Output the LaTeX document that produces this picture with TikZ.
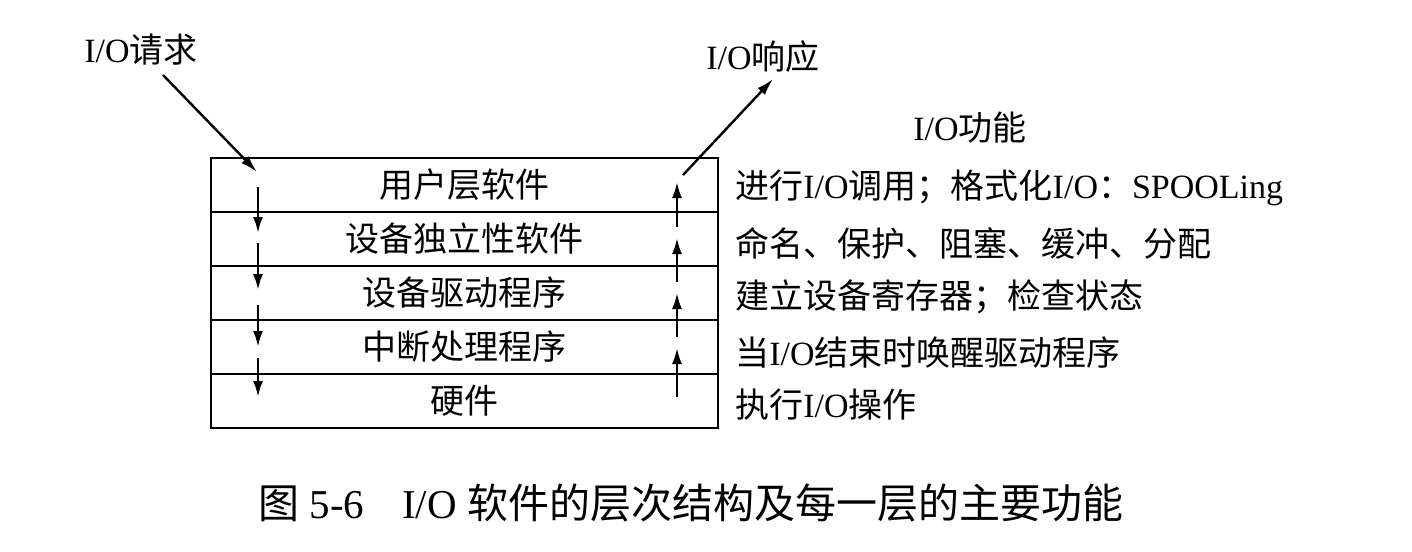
\documentclass[tikz,border=0pt]{standalone}
\usepackage{fontspec}
\setmainfont{Liberation Serif}
\newfontfamily\cjk{Noto Sans CJK SC}
\usetikzlibrary{arrows.meta}
\newcommand{\zh}[1]{{\cjk #1}}
\begin{document}
\begin{tikzpicture}[x=0.5pt,y=-0.5pt,
  layer/.style={draw,line width=1.2pt,minimum width=253.5pt,minimum height=27pt,inner sep=0pt,font=\fontsize{17pt}{20pt}\cjk},
  func/.style={anchor=west,inner sep=0pt,font=\fontsize{17pt}{20pt}\selectfont},
  lbl/.style={inner sep=0pt,font=\fontsize{17pt}{20pt}\selectfont},
  flow/.style={line width=1.2pt,-{Latex[length=8pt,width=5pt]}},
  diag/.style={line width=1.2pt,-{Latex[length=8.5pt,width=5pt]}}]
\useasboundingbox (0,0) rectangle (1412,551);
% layers
\node[layer] (r1) at (464.5,185) {用户层软件};
\node[layer] (r2) at (464.5,239) {设备独立性软件};
\node[layer] (r3) at (464.5,293) {设备驱动程序};
\node[layer] (r4) at (464.5,347) {中断处理程序};
\node[layer] (r5) at (464.5,401) {硬件};
% functions
\node[lbl] (fh) at (970,128) {I/O\zh{功能}};
\node[func] (f1) at (735,188) {\zh{进行}I/O\zh{调用；格式化}I/O\zh{：}SPOOLing};
\node[func] (f2) at (735,243) {\zh{命名、保护、阻塞、缓冲、分配}};
\node[func] (f3) at (735,297) {\zh{建立设备寄存器；检查状态}};
\node[func] (f4) at (735,353) {\zh{当}I/O\zh{结束时唤醒驱动程序}};
\node[func] (f5) at (735,405) {\zh{执行}I/O\zh{操作}};
% top labels
\node[lbl] (req) at (141,50) {I/O\zh{请求}};
\node[lbl] (rsp) at (763,57) {I/O\zh{响应}};
% diagonal arrows
\coordinate (reqA) at (163,75);
\coordinate (reqB) at (257,172);
\coordinate (rspA) at (683,175);
\coordinate (rspB) at (773,79);
\draw[diag] (reqA) -- (reqB);
\draw[diag] (rspA) -- (rspB);
% down arrows
\coordinate (d1a) at (258,187); \coordinate (d1b) at (258,233);
\coordinate (d2a) at (258,243); \coordinate (d2b) at (258,290);
\coordinate (d3a) at (258,305); \coordinate (d3b) at (258,347);
\coordinate (d4a) at (258,358); \coordinate (d4b) at (258,397);
\draw[flow] (d1a) -- (d1b);
\draw[flow] (d2a) -- (d2b);
\draw[flow] (d3a) -- (d3b);
\draw[flow] (d4a) -- (d4b);
% up arrows
\coordinate (u1a) at (677,227); \coordinate (u1b) at (677,182);
\coordinate (u2a) at (677,282); \coordinate (u2b) at (677,238);
\coordinate (u3a) at (677,337); \coordinate (u3b) at (677,293);
\coordinate (u4a) at (677,397); \coordinate (u4b) at (677,348);
\draw[flow] (u1a) -- (u1b);
\draw[flow] (u2a) -- (u2b);
\draw[flow] (u3a) -- (u3b);
\draw[flow] (u4a) -- (u4b);
% caption
\node[anchor=west,inner sep=0pt,font=\fontsize{20.5pt}{24pt}\selectfont] (cap) at (258,503)
  {\zh{图} 5-6\hspace{19pt}I/O \zh{软件的层次结构及每一层的主要功能}};
\end{tikzpicture}
\end{document}
